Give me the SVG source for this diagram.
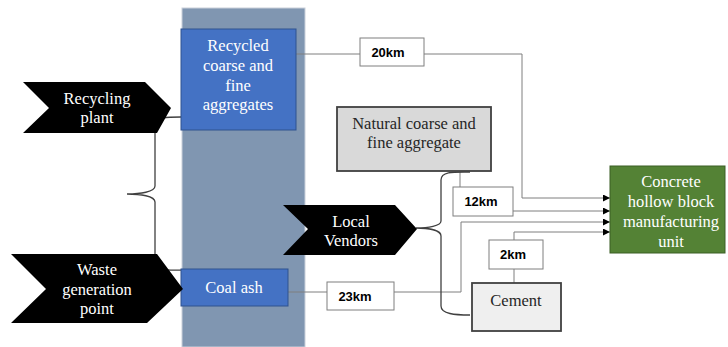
<svg xmlns="http://www.w3.org/2000/svg" width="728" height="347" viewBox="0 0 728 347">
<style>
.lbl{font-family:"Liberation Serif","Times New Roman",serif;font-size:16.5px;text-anchor:middle}
.w{fill:#ffffff}
.k{fill:#262626}
.km{font-family:"Liberation Sans",Arial,sans-serif;font-size:13px;font-weight:bold;fill:#000;text-anchor:middle}
.kmbox{fill:#fff;stroke:#7f7f7f;stroke-width:1}
.conn{fill:none;stroke:#7f7f7f;stroke-width:1}
.brace{fill:none;stroke:#404040;stroke-width:1.3}
</style>
<defs>
<marker id="ah" viewBox="0 0 10 10" refX="10" refY="5" markerWidth="8" markerHeight="7" markerUnits="userSpaceOnUse" orient="auto">
<path d="M0,0 L10,5 L0,10 z" fill="#000"/>
</marker>
</defs>
<rect id="column" x="182" y="8" width="123" height="339" fill="#8096b1" stroke="#c9d0da" stroke-width="1"/>
<g id="connectors">
<path class="conn" d="M296,54 H360"/>
<path class="conn" d="M424,54 H522 V198 H610" marker-end="url(#ah)"/>
<path class="conn" d="M460,172 V187"/>
<path class="conn" d="M513,211 H610" marker-end="url(#ah)"/>
<path class="conn" d="M288,292 H327"/>
<path class="conn" d="M394,292 H461 V222 H610" marker-end="url(#ah)"/>
<path class="conn" d="M514,283 V269"/>
<path class="conn" d="M514,240 V232 H610" marker-end="url(#ah)"/>
<path class="brace" d="M187,117 C170,117 155,116 155,126 V186 C155,192 140,194 127,194 C140,194 155,196 155,202 V262 C155,272 170,270 187,270"/>
<path class="brace" d="M470,172 C455,172 441,171 441,180 V221 C441,226 428,228 416,228 C428,228 441,230 441,236 V306 C441,314 455,315 470,315"/>
</g>
<g id="recycled">
<rect x="181" y="29" width="115" height="101" fill="#4472c4" stroke="#2f528f" stroke-width="1"/>
<text class="lbl w" x="238" y="51">Recycled</text>
<text class="lbl w" x="238" y="71">coarse  and</text>
<text class="lbl w" x="238" y="91">fine</text>
<text class="lbl w" x="238" y="110">aggregates</text>
</g>
<g id="coalash">
<rect x="181" y="269" width="107" height="37" fill="#4472c4" stroke="#2f528f" stroke-width="1"/>
<text class="lbl w" x="234" y="293">Coal ash</text>
</g>
<g id="recycling-plant">
<polygon points="23,82 145,82 171,108 157,133 23,133 49,108" fill="#000"/>
<text class="lbl w" x="97" y="104">Recycling</text>
<text class="lbl w" x="97" y="123">plant</text>
</g>
<g id="waste">
<polygon points="11,254 157,254 183,289 147,323 11,323 46,289" fill="#000"/>
<text class="lbl w" x="97" y="275">Waste</text>
<text class="lbl w" x="97" y="295">generation</text>
<text class="lbl w" x="97" y="314">point</text>
</g>
<g id="local-vendors">
<polygon points="283,205 395,205 417,229 395,255 283,255 308,229" fill="#000"/>
<text class="lbl w" x="351" y="227">Local</text>
<text class="lbl w" x="351" y="246">Vendors</text>
</g>
<g id="natural">
<rect x="337" y="107" width="154" height="64" fill="#d9d9d9" stroke="#404040" stroke-width="1.8"/>
<text class="lbl k" x="414" y="129">Natural coarse and</text>
<text class="lbl k" x="414" y="148">fine aggregate</text>
</g>
<g id="cement">
<rect x="472" y="283" width="89" height="48" fill="#efefef" stroke="#404040" stroke-width="1.8"/>
<text class="lbl k" x="516" y="306">Cement</text>
</g>
<g id="unit">
<rect x="610" y="166" width="115" height="87" fill="#548235" stroke="#3b5e25" stroke-width="1"/>
<text class="lbl w" x="671" y="187">Concrete</text>
<text class="lbl w" x="671" y="207">hollow block</text>
<text class="lbl w" x="671" y="227">manufacturing</text>
<text class="lbl w" x="671" y="247">unit</text>
</g>
<g id="km20">
<rect class="kmbox" x="360" y="38" width="64" height="28"/>
<text class="km" x="388" y="57">20km</text>
</g>
<g id="km12">
<rect class="kmbox" x="453" y="187" width="60" height="29"/>
<text class="km" x="481" y="206">12km</text>
</g>
<g id="km23">
<rect class="kmbox" x="327" y="282" width="67" height="28"/>
<text class="km" x="355" y="301">23km</text>
</g>
<g id="km2">
<rect class="kmbox" x="489" y="240" width="54" height="29"/>
<text class="km" x="513" y="259">2km</text>
</g>
</svg>
